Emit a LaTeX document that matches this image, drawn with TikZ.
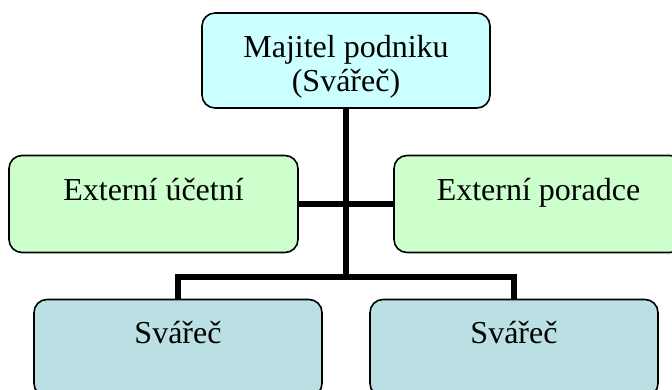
\documentclass[tikz,border=0pt]{standalone}
\usepackage{fontspec}
\setmainfont{Liberation Serif}
\usetikzlibrary{positioning}

\begin{document}
\begin{tikzpicture}[
        x=1pt, y=-1pt,
        % Barvy bloků
        box/.style={draw, rectangle, rounded corners=13pt, line width=1.6pt, minimum width=288pt, minimum height=97pt, inner sep=0pt},
        boss/.style={box, fill=bossfill, minimum height=95pt},
        outside/.style={box, fill=outsidefill, minimum width=289pt},
        worker/.style={box, fill=welderfill},
        txt/.style={font=\fontsize{32}{34}\selectfont, align=center, inner sep=0pt, anchor=base},
        % Spojnice
        link/.style={line width=6pt}
    ]
        \definecolor{bossfill}{RGB}{204,255,255}
        \definecolor{outsidefill}{RGB}{204,255,204}
        \definecolor{welderfill}{RGB}{187,224,227}
        \useasboundingbox (0,0) rectangle (672,390);

        % Bloky
        \node[boss] (owner) at (346,60.5) {};
        \node[outside] (acct) at (153.5,204) {};
        \node[outside] (advisor) at (538.5,204) {};
        \node[worker] (weldA) at (178,348) {};
        \node[worker] (weldB) at (514,348) {};
        \coordinate (fork) at (346,276.5);

        % Spojnice
        \draw[link] (owner.south) -- (fork);
        \draw[link] (acct.east) -- (advisor.west);
        \draw[link] (weldA.north) |- (fork) -| (weldB.north);

        % Texty (u dvou řádků je base na posledním řádku)
        \node[txt] (ownertext) at ([yshift=-79pt]owner.north) {Majitel podniku\\(Svářeč)};
        \node[txt] (accttext) at ([yshift=-46pt]acct.north) {Externí účetní};
        \node[txt] (advisortext) at ([yshift=-46pt]advisor.north) {Externí poradce};
        \node[txt] (weldAtext) at ([yshift=-45pt]weldA.north) {Svářeč};
        \node[txt] (weldBtext) at ([yshift=-45pt]weldB.north) {Svářeč};

    \end{tikzpicture}
\end{document}
